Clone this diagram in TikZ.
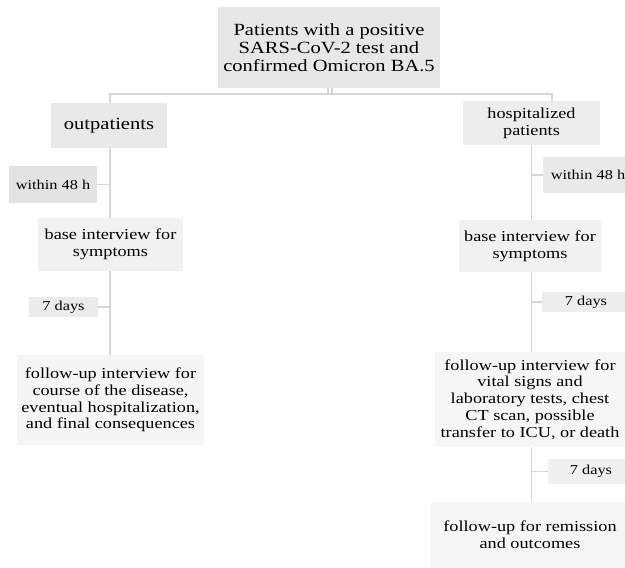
\documentclass[tikz,border=0pt]{standalone}
\usepackage{fontspec}
\setmainfont{Liberation Serif}[FakeStretch=1.2]
\usetikzlibrary{backgrounds}
\begin{document}
\begin{tikzpicture}[x=1pt,y=-1pt,
  box/.style={fill=#1,inner sep=0pt,align=center,text=black},
  box/.default={gray!18},
  link/.style={draw=black!16,line width=1.6pt},
  big/.style={font=\fontsize{17.1}{18.3}\selectfont},
  mid/.style={font=\fontsize{15.2}{16.8}\selectfont},
  small/.style={font=\fontsize{13.6}{15}\selectfont}]
\useasboundingbox (0,0) rectangle (625,568);
\clip (0,0) rectangle (625,568);
% nodes
\node[box={gray!19},big,minimum width=222pt,minimum height=81pt] (top) at (329,47.5)
  {Patients with a positive\\SARS-CoV-2 test and\\confirmed Omicron BA.5};
\node[box={gray!17},big,minimum width=116pt,minimum height=45pt] (outp) at (109,125.5) {outpatients};
\node[box={gray!14},mid,minimum width=137pt,minimum height=44pt] (hosp) at (531.5,123) {hospitalized\\patients};
% left column
\node[box={gray!22},small,minimum width=88pt,minimum height=37pt] (w48L) at (53,184.5) {within 48 h};
\node[box={gray!11},mid,minimum width=145pt,minimum height=53pt] (baseL) at (110.5,244.5) {base interview for\\symptoms};
\node[box={gray!16},small,minimum width=69pt,minimum height=20pt] (sdL) at (63.5,307) {7 days};
\node[box={gray!8},mid,minimum width=187pt,minimum height=90pt] (fuL) at (110.5,400)
  {follow-up interview for\\course of the disease,\\eventual hospitalization,\\and final consequences};
% right column
\node[box={gray!17},small,minimum width=90pt,minimum height=36pt] (w48R) at (588,175) {within 48 h};
\node[box={gray!11},mid,minimum width=142pt,minimum height=52pt] (baseR) at (530,246) {base interview for\\symptoms};
\node[box={gray!14},small,minimum width=88pt,minimum height=20pt] (sdR) at (586,302) {7 days};
\node[box={gray!7},mid,minimum width=190pt,minimum height=95pt] (fuR) at (530,399.5)
  {follow-up interview for\\vital signs and\\laboratory tests, chest\\CT scan, possible\\transfer to ICU, or death};
\node[box={gray!12},small,minimum width=86pt,minimum height=25pt] (sdR2) at (591,471.5) {7 days};
\node[box={gray!7},mid,minimum width=198pt,minimum height=66pt] (rem) at (530,535)
  {follow-up for remission\\and outcomes};
\coordinate (j) at (330,94);
\coordinate (hin) at (552,101);
\begin{scope}[on background layer]
  % top connector
  \draw[link] ([xshift=-1pt]top.south) -- ([xshift=-1pt]top.south |- j);
  \draw[link] ([xshift=3pt]top.south) -- ([xshift=3pt]top.south |- j);
  \draw[link] ([xshift=1pt]outp.north) |- (j) -| (hin);
  % left spine
  \draw[link] ([xshift=1pt]outp.south) -- ([xshift=1pt]outp.south |- fuL.north);
  \draw[link] (w48L.east) -- (w48L.east -| baseL.north);
  \draw[link] (sdL.east) -- (sdL.east -| baseL.north);
  % right spine
  \draw[link] (hosp.south) -- (hosp.south |- rem.north);
  \draw[link] (w48R.west) -- (w48R.west -| hosp.south);
  \draw[link] (sdR.west) -- (sdR.west -| hosp.south);
  \draw[link] (sdR2.west) -- (sdR2.west -| hosp.south);
\end{scope}
\end{tikzpicture}
\end{document}
